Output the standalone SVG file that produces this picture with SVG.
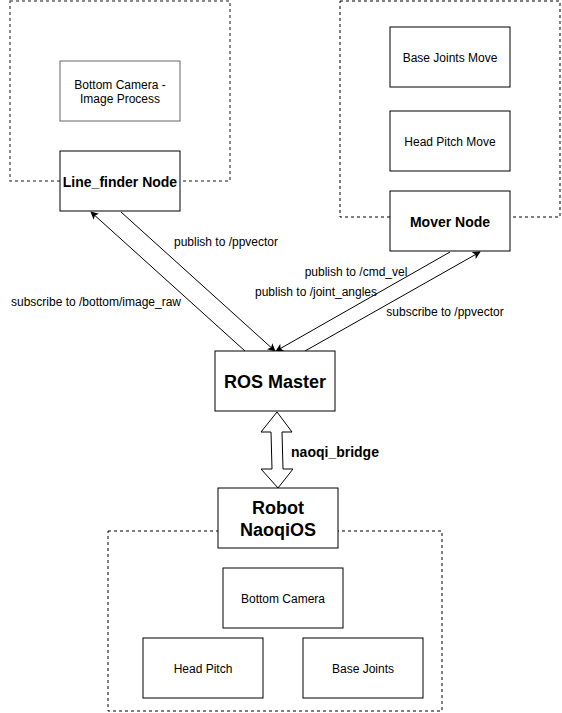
<svg xmlns="http://www.w3.org/2000/svg" width="562" height="713" viewBox="0 0 562 713">
<style>
text{font-family:"Liberation Sans",Arial,sans-serif;fill:#000;text-anchor:middle}
.n{fill:#fff;stroke:#000;stroke-width:1}
.g{stroke:#666}
.c{fill:none;stroke:#000;stroke-width:1;stroke-dasharray:3 3}
.cg{fill:none;stroke:#666;stroke-width:1.5;stroke-dasharray:3 3}
.s{font-size:12px}
.b{font-size:14px;font-weight:bold}
.l{font-size:18px;font-weight:bold}
.e{fill:none;stroke:#000;stroke-width:1}
</style>
<defs>
<marker id="a" viewBox="0 0 10 10" refX="9" refY="5" markerWidth="8" markerHeight="8" markerUnits="userSpaceOnUse" orient="auto">
<path d="M0,0 L10,5 L0,10 L2.5,5 Z" fill="#000"/>
</marker>
</defs>
<rect width="562" height="713" fill="#fff"/>
<g id="container-linefinder"><rect class="cg" x="10" y="1" width="220" height="180"/></g>
<g id="container-mover"><rect class="c" x="340" y="1" width="220" height="216"/></g>
<g id="container-robot"><rect class="c" x="108" y="531" width="334" height="180"/></g>
<g id="connectors">
<line class="e" x1="245" y1="351" x2="91" y2="212" marker-end="url(#a)"/>
<line class="e" x1="121" y1="212" x2="275" y2="351" marker-end="url(#a)"/>
<line class="e" x1="450" y1="252" x2="276" y2="351" marker-end="url(#a)"/>
<line class="e" x1="305" y1="351" x2="480" y2="252" marker-end="url(#a)"/>
<path d="M277,412 L292,432 L282,432 L283,469 L293,469 L278,488 L261,469 L272,469 L271,432 L261,432 Z" fill="#fff" stroke="#000" stroke-width="1"/>
<text class="s" x="226" y="246">publish to /ppvector</text>
<text class="s" x="96" y="306">subscribe to /bottom/image_raw</text>
<text class="s" x="356" y="276">publish to /cmd_vel</text>
<text class="s" x="316" y="296">publish to /joint_angles</text>
<text class="s" x="445" y="316">subscribe to /ppvector</text>
<text class="b" x="335" y="457">naoqi_bridge</text>
</g>
<g id="node-bottom-camera-image-process"><rect class="n g" x="60" y="61" width="120" height="60"/><text class="s" x="120" y="89">Bottom Camera -</text><text class="s" x="120" y="103">Image Process</text></g>
<g id="node-line-finder"><rect class="n" x="60" y="151" width="120" height="60"/><text class="b" x="120" y="187">Line_finder Node</text></g>
<g id="node-base-joints-move"><rect class="n" x="390" y="27" width="120" height="60"/><text class="s" x="450" y="62">Base Joints Move</text></g>
<g id="node-head-pitch-move"><rect class="n" x="390" y="111" width="120" height="60"/><text class="s" x="450" y="146">Head Pitch Move</text></g>
<g id="node-mover"><rect class="n" x="390" y="191" width="120" height="60"/><text class="b" x="450" y="227">Mover Node</text></g>
<g id="node-ros-master"><rect class="n" x="215" y="351" width="120" height="60"/><text class="l" x="275" y="388">ROS Master</text></g>
<g id="node-robot-naoqios"><rect class="n" x="218" y="488" width="120" height="60"/><text class="l" x="278" y="514">Robot</text><text class="l" x="278" y="536">NaoqiOS</text></g>
<g id="node-bottom-camera"><rect class="n" x="223" y="568" width="120" height="60"/><text class="s" x="283" y="603">Bottom Camera</text></g>
<g id="node-head-pitch"><rect class="n" x="143" y="638" width="120" height="60"/><text class="s" x="203" y="673">Head Pitch</text></g>
<g id="node-base-joints"><rect class="n" x="303" y="638" width="120" height="60"/><text class="s" x="363" y="673">Base Joints</text></g>
</svg>
